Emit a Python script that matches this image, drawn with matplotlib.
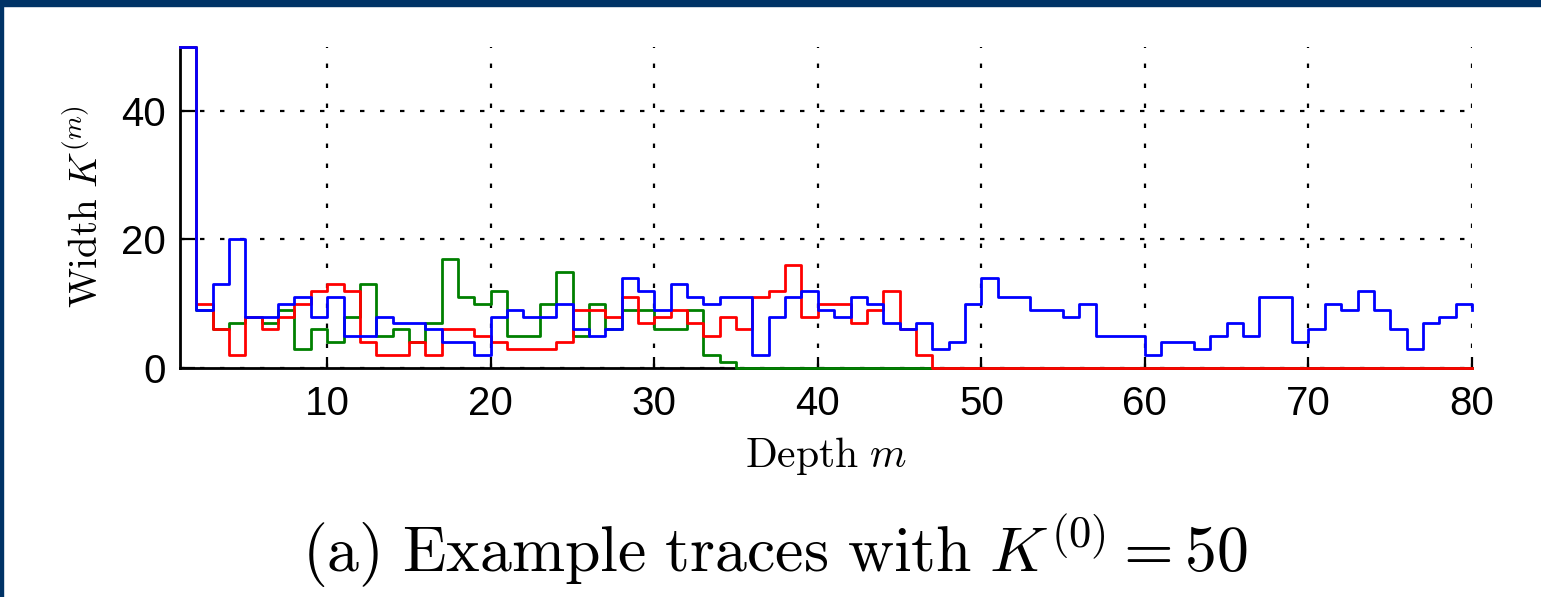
import numpy as np
import matplotlib
matplotlib.use('Agg')
import matplotlib.pyplot as plt
from matplotlib.patches import Rectangle

plt.rcParams['mathtext.fontset'] = 'cm'
plt.rcParams['font.family'] = ['Liberation Sans', 'DejaVu Sans']

# depth m = 1..80
depth = np.arange(1, 81)

# traces of the width K^(m)
blue = [50, 9, 13, 20, 8, 8, 10, 11, 8, 11, 5, 5, 8, 7, 7, 6, 4, 4, 2, 8,
        9, 8, 8, 10, 6, 5, 6, 14, 12, 9, 13, 11, 10, 11, 11, 2, 8, 11, 12, 9,
        8, 11, 10, 7, 6, 7, 3, 4, 10, 14, 11, 11, 9, 9, 8, 10, 5, 5, 5, 2,
        4, 4, 3, 5, 7, 5, 11, 11, 4, 6, 10, 9, 12, 9, 6, 3, 7, 8, 10, 9]
green = [50, 9, 6, 7, 8, 7, 9, 3, 6, 4, 8, 13, 5, 6, 4, 7, 17, 11, 10, 12,
         5, 5, 10, 15, 5, 10, 6, 9, 9, 6, 6, 9, 2, 1] + [0] * 46
red = [50, 10, 6, 2, 8, 6, 8, 10, 12, 13, 12, 4, 2, 2, 4, 2, 6, 6, 5, 4,
       3, 3, 3, 4, 9, 9, 8, 11, 7, 8, 9, 7, 5, 8, 6, 11, 12, 16, 8, 10,
       10, 7, 9, 12, 6, 2] + [0] * 34

W, H = 1541, 597
fig = plt.figure(figsize=(W / 100, H / 100), dpi=100)
fig.patch.set_facecolor('white')

# navy frame (top and left edges)
navy = '#003366'
fig.patches.append(Rectangle((0, 1 - 6 / H), 1, 6 / H, transform=fig.transFigure,
                             color=navy, zorder=0))
fig.patches.append(Rectangle((0, 0), 3 / W, 1, transform=fig.transFigure,
                             color=navy, zorder=0))

ax = fig.add_axes([180 / W, 1 - 368 / H, (1472 - 180) / W, (368 - 46.5) / H])

ax.step(depth, green, where='post', color='#008000', lw=2.0, zorder=7, clip_on=False)
ax.step(depth, red, where='post', color='#ff0000', lw=2.0, zorder=8, clip_on=False)
ax.step(depth, blue, where='post', color='#0000ff', lw=2.0, zorder=9, clip_on=False)

ax.set_xlim(1, 80)
ax.set_ylim(0, 50)
ax.set_xticks(np.arange(10, 81, 10))
ax.set_yticks([0, 20, 40])

ax.grid(True, color='black', linestyle=(0, (2, 7)), linewidth=1.6)
ax.set_axisbelow(True)

for s in ['top', 'right']:
    ax.spines[s].set_visible(False)
for s in ['left', 'bottom']:
    ax.spines[s].set_linewidth(2.0)
    ax.spines[s].set_zorder(6)

ax.tick_params(axis='x', direction='in', length=8, width=1.6, pad=12, labelsize=29)
ax.tick_params(axis='y', direction='in', length=11, width=1.6, pad=10, labelsize=29)

fig.text(826 / W, 1 - 467 / H, r'$\mathrm{Depth}\ m$', ha='center', va='baseline',
         fontsize=30)
fig.text(86 / W, 1 - 207 / H, r'$\mathrm{Width}\ K^{(m)}$', ha='center', va='center',
         rotation=90, fontsize=28)
fig.text(775 / W, 1 - 572 / H, r'$\mathrm{(a)\ Example\ traces\ with\ }K^{(0)}=50$',
         ha='center', va='baseline', fontsize=46)

fig.savefig('out.png', dpi=100)
